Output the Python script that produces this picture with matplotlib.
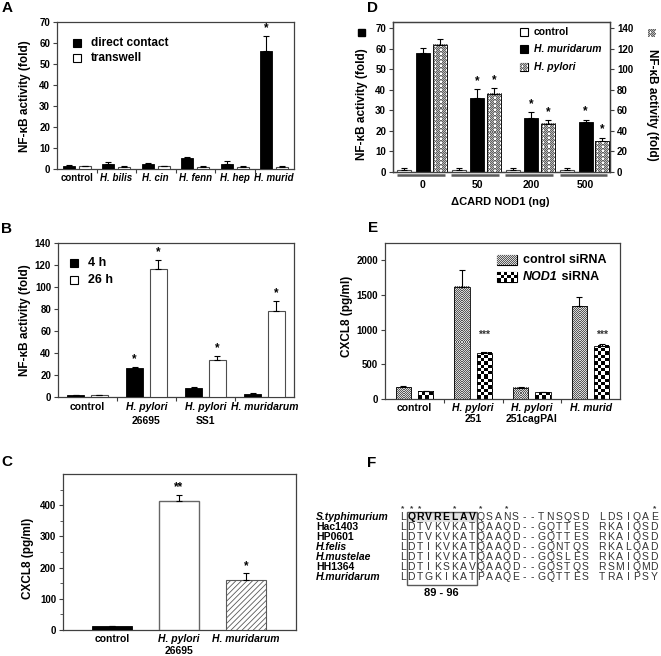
import numpy as np
import matplotlib
matplotlib.use('Agg')
import matplotlib.pyplot as plt
from matplotlib.patches import Rectangle

plt.rcParams['font.family'] = ['Liberation Sans', 'DejaVu Sans']
plt.rcParams['font.weight'] = 'bold'
plt.rcParams['hatch.linewidth'] = 0.6

W, H = 661, 656

# ---- panel A data
a_groups = ['control', 'H. bilis', 'H. cin', 'H. fenn', 'H. hep', 'H. murid']
a_direct = [1.5, 2.6, 2.3, 5.2, 2.6, 56.0]
a_direct_err = [0.2, 0.6, 0.4, 0.5, 1.0, 7.5]
a_trans = [1.3, 1.0, 1.2, 1.0, 1.0, 1.0]
a_trans_err = [0.2, 0.2, 0.2, 0.2, 0.2, 0.2]
a_direct_stars = ['', '', '', '', '', '*']

# ---- panel B data
b_groups = ['control', 'H. pylori', 'H. pylori', 'H. muridarum']
b_groups2 = ['', '26695', 'SS1', '']
b_4h = [1.5, 26.0, 8.5, 2.8]
b_4h_err = [0.3, 1.5, 0.8, 0.5]
b_26h = [1.5, 116.0, 34.0, 78.0]
b_26h_err = [0.3, 9.0, 3.5, 9.0]
b_4h_stars = ['', '*', '', '']
b_26h_stars = ['', '*', '*', '*']

# ---- panel C data
c_groups = ['control', 'H. pylori', 'H. muridarum']
c_groups2 = ['', '26695', '']
c_vals = [13, 412, 160]
c_err = [1, 22, 22]
c_stars = ['', '**', '*']

# ---- panel D data
d_groups = ['0', '50', '200', '500']
d_control = [1.2, 1.2, 1.2, 1.2]
d_control_err = [0.6, 0.6, 0.6, 0.6]
d_murid = [58.0, 36.0, 26.5, 24.5]
d_murid_err = [2.5, 4.5, 2.5, 1.0]
d_pylori = [124.0, 76.0, 47.0, 30.0]
d_pylori_err = [5.0, 5.5, 3.5, 3.5]
d_murid_stars = ['', '*', '*', '*']
d_pylori_stars = ['', '*', '*', '*']

# ---- panel E data
e_groups = ['control', 'H. pylori', 'H. pylori', 'H. murid']
e_groups2 = ['', '251', '251cagPAI', '']
e_ctrl = [170, 1620, 165, 1335]
e_ctrl_err = [15, 240, 8, 130]
e_nod1 = [110, 670, 95, 770]
e_nod1_err = [8, 10, 8, 25]
e_stars = ['', '***', '', '***']
e_star_y = [0, 860, 0, 860]

# ---- panel F data
f_names = ['S.typhimurium', 'Hac1403', 'HP0601', 'H.felis', 'H.mustelae', 'HH1364', 'H.muridarum']
f_italic = [True, False, False, True, True, False, True]
f_seqs = ['LQRVRELAVQSANS--TNSQSD LDSIQAE',
          'LDTVKVKATQAAQD--GQTTES RKAIQSD',
          'LDTVKVKATQAAQD--GQTTES RKAIQSD',
          'LDTIKVKATQAAQD--GQNTQS RKALQAD',
          'LDTIKVKATQAAQD--GQSLES RKAIQSD',
          'LDTIKSKAVQAAQD--GQSTQS RSMIQMD',
          'LDTGKIKATPAAQE--GQTTES TRAIPSY']
f_star_cols = [0, 1, 2, 6, 9, 12, 29]
f_box = (1, 8)
f_box_label = '89 - 96'

SPINE = '0.25'
TICK = 7
LAB = 7.5
YLAB = 8.5


def pattern_image(nx, ny, kind):
    i, j = np.indices((ny, nx))
    if kind == 'checker':
        return ((np.floor(i / 3.3) + np.floor(j / 3.3)) % 2).astype(float)
    if kind == 'fine':
        return np.where((i + j) % 2 == 0, 0.35, 0.85)
    img = np.where((i + j) % 2 == 0, 0.38, 0.72)
    img[(j % 5 == 2) & (i % 4 < 2)] = 1.0
    return img


def pattern_fill(ax, x0, y0, x1, y1, kind, zorder=2):
    p0 = ax.transData.transform((x0, y0))
    p1 = ax.transData.transform((x1, y1))
    nx = max(1, int(round(abs(p1[0] - p0[0]))))
    ny = max(1, int(round(abs(p1[1] - p0[1]))))
    ax.imshow(pattern_image(nx, ny, kind), cmap='gray', vmin=0, vmax=1,
              extent=(x0, x1, y0, y1), origin='lower', aspect='auto',
              interpolation='nearest', zorder=zorder)


def patterned_bars(ax, x, h, w, kind):
    for xi, hi in zip(x, h):
        pattern_fill(ax, xi - w / 2, 0, xi + w / 2, hi, kind)
    ax.bar(x, h, w, facecolor='none', edgecolor='black', lw=0.6, zorder=3)


def style(ax):
    for s in ax.spines.values():
        s.set_color(SPINE)
        s.set_linewidth(0.9)
    ax.tick_params(labelsize=TICK, width=0.8, length=3, color=SPINE, pad=2)


def errs(ax, x, y, e):
    ax.errorbar(x, y, yerr=[np.zeros(len(e)), e], fmt='none', ecolor='black',
                elinewidth=0.8, capsize=2.5, capthick=0.8, zorder=4)


def stars(ax, x, y, e, s, pad, size=8.5):
    for xi, yi, ei, si in zip(x, y, e, s):
        if si:
            ax.text(xi, yi + ei + pad, si, ha='center', va='bottom', fontsize=size)


def group_labels(ax, x, first, second, dy=3, gap=12.5, size=LAB):
    for xi, a, b in zip(x, first, second):
        it = 'normal' if a == 'control' else 'italic'
        ax.annotate(a, (xi, 0), xycoords=('data', 'axes fraction'), xytext=(0, -dy),
                    textcoords='offset pixels', ha='center', va='top', fontsize=size, fontstyle=it)
        if b:
            ax.annotate(b, (xi, 0), xycoords=('data', 'axes fraction'), xytext=(0, -dy - gap),
                        textcoords='offset pixels', ha='center', va='top', fontsize=size)


def rect_axes(x0, y0, x1, y1):
    return fig.add_axes([x0 / W, 1 - y1 / H, (x1 - x0) / W, (y1 - y0) / H])


fig = plt.figure(figsize=(W / 100, H / 100), dpi=100)

# ================= A
axA = rect_axes(57, 22, 294, 169)
xa = np.arange(len(a_groups))
axA.set_xlim(0, len(a_groups))
axA.set_ylim(0, 70)
axA.bar(xa + 0.3, a_direct, 0.3, color='black', edgecolor='black', lw=0.6, zorder=3)
axA.bar(xa + 0.7, a_trans, 0.3, color='white', edgecolor='0.3', lw=0.8, zorder=3)
errs(axA, xa + 0.3, a_direct, a_direct_err)
errs(axA, xa + 0.7, a_trans, a_trans_err)
stars(axA, xa + 0.3, a_direct, a_direct_err, a_direct_stars, 0.5)
axA.set_yticks(np.arange(0, 71, 10))
axA.set_xticks(np.arange(1, len(a_groups)))
axA.set_xticklabels([])
style(axA)
group_labels(axA, xa + 0.5, a_groups, [''] * 6, dy=4, size=7)

# ================= B
axB = rect_axes(58, 243, 294, 397)
xb = np.arange(len(b_groups))
axB.set_xlim(0, len(b_groups))
axB.set_ylim(0, 140)
axB.bar(xb + 0.3, b_4h, 0.28, color='black', edgecolor='black', lw=0.6, zorder=3)
axB.bar(xb + 0.7, b_26h, 0.28, color='white', edgecolor='0.3', lw=0.8, zorder=3)
errs(axB, xb + 0.3, b_4h, b_4h_err)
errs(axB, xb + 0.7, b_26h, b_26h_err)
stars(axB, xb + 0.3, b_4h, b_4h_err, b_4h_stars, 1.5)
stars(axB, xb + 0.7, b_26h, b_26h_err, b_26h_stars, 1.5)
axB.set_yticks(np.arange(0, 141, 20))
axB.set_xticks(np.arange(1, len(b_groups)))
axB.set_xticklabels([])
style(axB)
group_labels(axB, xb + 0.5, b_groups, b_groups2, dy=5, gap=14)

# ================= C
axC = rect_axes(63, 474, 296, 630)
xc = np.arange(len(c_groups))
axC.set_xlim(-0.73, 2.75)
axC.set_ylim(0, 500)
axC.bar(xc[0], c_vals[0], 0.6, color='black', edgecolor='black', lw=0.6, zorder=3)
axC.bar(xc[1], c_vals[1], 0.6, color='white', edgecolor='0.4', lw=1.0, zorder=3)
axC.bar(xc[2], c_vals[2], 0.6, color='white', edgecolor='0.35', lw=0.8, hatch='//////', zorder=3)
errs(axC, xc, c_vals, c_err)
stars(axC, xc, c_vals, c_err, c_stars, 3)
axC.set_yticks(np.arange(0, 401, 100))
axC.set_yticks(np.arange(50, 451, 100), minor=True)
axC.tick_params(axis='y', which='minor', length=2, width=0.6, color=SPINE)
axC.set_xticks([])
style(axC)
group_labels(axC, xc, c_groups, c_groups2, dy=4, gap=11.5)

# ================= D
axD = rect_axes(393, 22, 610, 172)
axD2 = axD.twinx()
xd = np.arange(len(d_groups))
axD.set_xlim(0, len(d_groups))
axD.set_ylim(0, 73)
axD2.set_ylim(0, 146)
axD.bar(xd + 0.21, d_control, 0.26, color='white', edgecolor='0.3', lw=0.8, zorder=3)
axD.bar(xd + 0.55, d_murid, 0.26, color='black', edgecolor='black', lw=0.6, zorder=3)
patterned_bars(axD2, xd + 0.86, d_pylori, 0.26, 'dots')
errs(axD, xd + 0.21, d_control, d_control_err)
errs(axD, xd + 0.55, d_murid, d_murid_err)
errs(axD2, xd + 0.86, d_pylori, d_pylori_err)
stars(axD, xd + 0.55, d_murid, d_murid_err, d_murid_stars, 1)
stars(axD2, xd + 0.86, d_pylori, d_pylori_err, d_pylori_stars, 2)
axD.set_xlim(0, len(d_groups))
axD.set_ylim(0, 73)
axD2.set_ylim(0, 146)
axD.set_yticks(np.arange(0, 71, 10))
axD2.set_yticks(np.arange(0, 141, 20))
axD.set_xticks([])
style(axD)
style(axD2)
for i in xd:
    axD.plot([i + 0.07, i + 0.95], [-0.02, -0.02], transform=axD.get_xaxis_transform(),
             color='0.35', lw=1.8, clip_on=False, solid_capstyle='butt')
for xi, g in zip(xd + 0.55, d_groups):
    axD.annotate(g, (xi, 0), xycoords=('data', 'axes fraction'), xytext=(0, -8),
                 textcoords='offset pixels', ha='center', va='top', fontsize=LAB)

# ================= E
axE = rect_axes(385, 243, 620, 399)
xe = np.arange(len(e_groups))
axE.set_xlim(0, len(e_groups))
axE.set_ylim(0, 2250)
patterned_bars(axE, xe + 0.31, e_ctrl, 0.26, 'fine')
patterned_bars(axE, xe + 0.69, e_nod1, 0.26, 'checker')
errs(axE, xe + 0.31, e_ctrl, e_ctrl_err)
errs(axE, xe + 0.69, e_nod1, e_nod1_err)
for xi, s, ys in zip(xe + 0.69, e_stars, e_star_y):
    if s:
        axE.text(xi, ys, s, ha='center', va='bottom', fontsize=7.5, color='0.2')
axE.set_xlim(0, len(e_groups))
axE.set_ylim(0, 2250)
axE.set_yticks(np.arange(0, 2001, 500))
axE.set_xticks(np.arange(1, len(e_groups)))
axE.set_xticklabels([])
style(axE)
group_labels(axE, xe + 0.5, e_groups, e_groups2, dy=4, gap=11.5)

# ================= overlay: letters, labels, legends, panel F
ov = fig.add_axes([0, 0, 1, 1])
ov.set_xlim(0, W)
ov.set_ylim(H, 0)
ov.axis('off')

for s, x, y in [('A', 7, 8), ('B', 7, 229), ('C', 7, 462), ('D', 372, 8), ('E', 373, 228), ('F', 372, 463)]:
    ov.text(x, y, s, fontsize=11, ha='center', va='center')

ylab_kw = dict(fontsize=YLAB, ha='center', va='center', rotation=90)
ov.text(25, 96, 'NF-\u03baB activity (fold)', **ylab_kw)
ov.text(25, 320, 'NF-\u03baB activity (fold)', **ylab_kw)
ov.text(28, 558, 'CXCL8 (pg/ml)', **ylab_kw)
ov.text(347, 316, 'CXCL8 (pg/ml)', **ylab_kw)
ov.text(362, 104, 'NF-\u03baB activity (fold)', **ylab_kw)
ov.text(652, 105, 'NF-\u03baB activity (fold)', fontsize=YLAB, ha='center', va='center', rotation=-90)
ov.add_patch(Rectangle((358, 29), 7, 7, color='black'))
pattern_fill(ov, 648, 37, 656, 29, 'dots')
ov.text(500, 202, '\u0394CARD NOD1 (ng)', fontsize=8, ha='center', va='center')


def legend_box(x, y, w, h, face=None, kind=None):
    if kind is None:
        ov.add_patch(Rectangle((x, y - h / 2), w, h, facecolor=face, edgecolor='black', lw=0.8))
    else:
        pattern_fill(ov, x, y + h / 2, x + w, y - h / 2, kind)
        ov.add_patch(Rectangle((x, y - h / 2), w, h, facecolor='none', edgecolor='black', lw=0.8))


def legend_entry(x, y, w, h, label, face=None, kind=None, size=8.5, style_='normal', gap=6):
    legend_box(x, y, w, h, face, kind)
    ov.text(x + w + gap, y, label, fontsize=size, ha='left', va='center', fontstyle=style_)


legend_entry(73, 43, 8, 8, 'direct contact', face='black', gap=10)
legend_entry(73, 58, 8, 8, 'transwell', face='white', gap=10)
legend_entry(70, 263, 8, 8, '4 h', face='black', size=9, gap=10)
legend_entry(70, 280, 8, 8, '26 h', face='white', size=9, gap=10)
legend_entry(520, 32, 8, 8, 'control', face='white', size=7.5)
legend_entry(520, 49, 8, 8, 'H. muridarum', face='black', size=7.5, style_='italic')
legend_entry(520, 67, 8, 8, 'H. pylori', kind='dots', size=7.5, style_='italic')
legend_entry(497, 260, 20, 10, 'control siRNA', kind='fine', size=9)
legend_box(497, 277, 20, 10, kind='checker')
t_nod = ov.text(523, 277, 'NOD1', fontsize=9, ha='left', va='center', fontstyle='italic')
renderer = fig.canvas.get_renderer()
bb = t_nod.get_window_extent(renderer)
x_next = ov.transData.inverted().transform((bb.x1, bb.y0))[0]
ov.text(x_next, 277, ' siRNA', fontsize=9, ha='left', va='center')

# alignment
col0, dcol = 402.7, 8.67
row0, drow = 517, 10
b0, b1 = f_box
ov.add_patch(Rectangle((col0 + (b0 - 0.5) * dcol, row0 - 5.5), (b1 - b0 + 1.1) * dcol, 10.5,
                       facecolor='#e2e2e2', edgecolor='none'))
ov.add_patch(Rectangle((col0 + (b0 - 0.5) * dcol, row0 - 5.5), (b1 - b0 + 1.1) * dcol,
                       (len(f_seqs) - 1) * drow + 13.5, facecolor='none', edgecolor='0.35', lw=1.0))
for c in f_star_cols:
    ov.text(col0 + c * dcol, row0 - 8, '*', fontsize=6, ha='center', va='center', color='0.2')
for r, (name, it, seq) in enumerate(zip(f_names, f_italic, f_seqs)):
    y = row0 + r * drow
    ov.text(316, y, name, fontsize=7.5, ha='left', va='center', fontstyle='italic' if it else 'normal')
    for c, ch in enumerate(seq):
        bold = (r == 0 and b0 <= c <= b1)
        ov.text(col0 + c * dcol, y, ch, fontsize=7.5, ha='center', va='center',
                color='black' if bold else '0.2', fontweight='bold' if bold else 'normal')
ov.text(col0 + (b0 + b1) / 2 * dcol, 593, f_box_label, fontsize=8, ha='center', va='center')

fig.savefig('out.png', dpi=100)
